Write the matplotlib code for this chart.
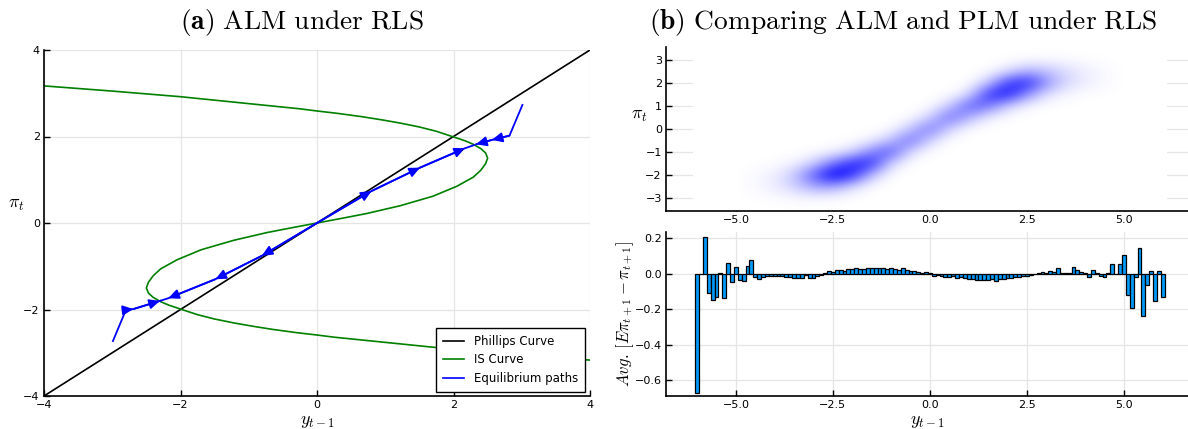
import numpy as np
import matplotlib
matplotlib.use('Agg')
import matplotlib.pyplot as plt
from matplotlib.colors import LinearSegmentedColormap
from matplotlib.patches import Rectangle
from matplotlib.lines import Line2D

plt.rcParams['mathtext.fontset'] = 'cm'
plt.rcParams['font.family'] = 'DejaVu Sans'

# ---- panel (a): ALM under RLS ----
phillips_y = [-4.0, 4.0]
phillips_pi = [-4.0, 4.0]

# IS curve, traced from the right edge to the left edge
is_y = [4.0, 3.0, 2.0, 1.0, 0.25, 0.0, -0.3, -0.65, -0.95, -1.22, -1.5, -1.75,
        -2.0, -2.17, -2.29, -2.40, -2.47, -2.50, -2.47, -2.40, -2.29, -2.05, -1.70,
        -1.22, -0.73, -0.37, 0.0,
        0.37, 0.73, 1.22, 1.70, 2.05, 2.29, 2.40, 2.47, 2.50, 2.47, 2.40, 2.29,
        2.17, 2.0, 1.75, 1.5, 1.22, 0.95, 0.65, 0.3, 0.0, -0.25, -1.0, -2.0, -3.0, -4.0]
is_pi = [-3.17, -3.05, -2.92, -2.76, -2.64, -2.59, -2.535, -2.46, -2.385, -2.31, -2.22, -2.12,
         -1.99, -1.90, -1.82, -1.72, -1.62, -1.50, -1.37, -1.22, -1.06, -0.85, -0.62,
         -0.40, -0.22, -0.11, 0.0,
         0.11, 0.22, 0.40, 0.62, 0.85, 1.06, 1.22, 1.37, 1.50, 1.62, 1.72, 1.82,
         1.90, 1.99, 2.12, 2.22, 2.31, 2.385, 2.46, 2.535, 2.59, 2.64, 2.76, 2.92, 3.05, 3.17]

# equilibrium paths (y_{t-1}, pi_t) and vertices carrying an arrow head
path_up_out_y = [0.0, 0.80, 1.51, 2.17, 2.30]
path_up_out_pi = [0.0, 0.74, 1.28, 1.73, 1.80]
path_up_in_y = [3.01, 2.82, 2.56, 2.33]
path_up_in_pi = [2.73, 2.02, 1.92, 1.82]
path_lo_out_y = [0.0, -0.81, -1.49, -2.18, -2.30]
path_lo_out_pi = [0.0, -0.76, -1.30, -1.74, -1.80]
path_lo_in_y = [-2.99, -2.80, -2.69, -2.30]
path_lo_in_pi = [-2.73, -2.01, -1.99, -1.80]
paths = [(path_up_out_y, path_up_out_pi, [1, 2, 3]),
         (path_up_in_y, path_up_in_pi, [2, 3]),
         (path_lo_out_y, path_lo_out_pi, [1, 2, 3]),
         (path_lo_in_y, path_lo_in_pi, [2, 3])]

# ---- panel (b) top: density of (y_{t-1}, pi_t) ----
dens_x = [-4.5, -4.0, -3.5, -3.0, -2.5, -2.0, -1.5, -1.0, -0.5, 0.0,
          0.5, 1.0, 1.5, 2.0, 2.5, 3.0, 3.5, 4.0, 4.5]
dens_pi = [3.0, 2.5, 2.0, 1.5, 1.0, 0.5, 0.0, -0.5, -1.0, -1.5, -2.0, -2.5, -3.0]
# one list per x column, top (pi=3) to bottom (pi=-3)
dens_cols = [
    [0, 0, 0, 0, 0, 0, 0, 0, 0, 0.03, 0.18, 0.22, 0.05],
    [0, 0, 0, 0, 0, 0, 0, 0, 0, 0.08, 0.51, 0.61, 0.13],
    [0, 0, 0, 0, 0, 0, 0, 0, 0.01, 0.36, 1.74, 1.46, 0.22],
    [0, 0, 0, 0, 0, 0, 0, 0, 0.08, 1.45, 4.85, 2.85, 0.30],
    [0, 0, 0, 0, 0, 0, 0, 0, 0.38, 4.25, 8.40, 2.98, 0.19],
    [0, 0, 0, 0, 0, 0, 0, 0.04, 1.19, 6.90, 6.90, 1.19, 0.04],
    [0, 0, 0, 0, 0, 0, 0, 0.42, 4.00, 6.80, 2.00, 0.10, 0],
    [0, 0, 0, 0, 0, 0, 0.07, 2.00, 5.45, 1.27, 0.03, 0, 0],
    [0, 0, 0, 0, 0, 0.06, 1.78, 4.75, 1.10, 0.02, 0, 0, 0],
    [0, 0, 0, 0, 0.04, 1.35, 4.50, 1.35, 0.04, 0, 0, 0, 0],
    [0, 0, 0, 0.04, 1.44, 4.80, 1.44, 0.04, 0, 0, 0, 0, 0],
    [0, 0, 0.01, 0.94, 5.20, 2.50, 0.10, 0, 0, 0, 0, 0, 0],
    [0, 0.08, 1.60, 6.45, 4.55, 0.56, 0.01, 0, 0, 0, 0, 0, 0],
    [0.03, 0.94, 6.20, 7.40, 1.53, 0.06, 0, 0, 0, 0, 0, 0, 0],
    [0.15, 2.45, 6.93, 3.50, 0.30, 0, 0, 0, 0, 0, 0, 0, 0],
    [0.21, 2.00, 3.40, 1.00, 0.05, 0, 0, 0, 0, 0, 0, 0, 0],
    [0.17, 1.10, 1.30, 0.27, 0.01, 0, 0, 0, 0, 0, 0, 0, 0],
    [0.10, 0.57, 0.57, 0.10, 0, 0, 0, 0, 0, 0, 0, 0, 0],
    [0.04, 0.20, 0.20, 0.04, 0, 0, 0, 0, 0, 0, 0, 0, 0],
]

# ---- panel (b) bottom: average forecast error per y_{t-1} bin ----
bin_centers = np.round(np.linspace(-6.0, 6.0, 121), 1)
avg_err = [
    -0.67, 0.0, 0.205, -0.11, -0.15, -0.13, 0.005, -0.135, 0.06, -0.045,    # -6.0 .. -5.1
    0.04, -0.035, -0.04, 0.045, 0.08, -0.02, -0.03, -0.02, -0.015, -0.01,   # -5.0 .. -4.1
    -0.015, -0.012, -0.015, -0.02, -0.02, -0.022, -0.025, -0.025, -0.005, -0.022,  # -4.0 .. -3.1
    -0.025, -0.015, -0.005, 0.005, 0.015, 0.01, 0.02, 0.022, 0.015, 0.025,  # -3.0 .. -2.1
    0.028, 0.03, 0.028, 0.025, 0.032, 0.03, 0.032, 0.033, 0.03, 0.025,      # -2.0 .. -1.1
    0.035, 0.028, 0.02, 0.03, 0.022, 0.018, 0.015, 0.008, 0.005, 0.01,      # -1.0 .. -0.1
    0.003, -0.01, -0.005, -0.012, -0.02, -0.02, -0.015, -0.025, -0.02, -0.022,  # 0.0 .. 0.9
    -0.03, -0.03, -0.033, -0.035, -0.033, -0.035, -0.03, -0.038, -0.03, -0.028,  # 1.0 .. 1.9
    -0.025, -0.025, -0.02, -0.02, -0.015, -0.01, -0.005, 0.0, 0.003, 0.01,  # 2.0 .. 2.9
    0.003, 0.015, 0.01, 0.03, 0.003, 0.003, 0.005, 0.04, 0.02, 0.01,        # 3.0 .. 3.9
    0.003, -0.02, 0.02, 0.003, -0.01, -0.02, 0.003, 0.053, 0.0, 0.053,      # 4.0 .. 4.9
    0.106, -0.117, -0.19, -0.017, 0.147, -0.24, -0.064, 0.017, -0.155, 0.017,  # 5.0 .. 5.9
    -0.132,                                                                 # 6.0
]

GRID = '#e5e5e5'


def style_axes(ax):
    for s in ['top', 'right']:
        ax.spines[s].set_visible(False)
    for s in ['left', 'bottom']:
        ax.spines[s].set_linewidth(1.2)
    ax.tick_params(direction='in', length=4, width=1, labelsize=8, pad=3)
    ax.grid(True, color=GRID, linewidth=0.9)
    ax.set_axisbelow(True)


fig = plt.figure(figsize=(11.88, 4.29), dpi=100, facecolor='white')

# ---------------- (a) ----------------
ax1 = fig.add_axes([44 / 1188, 33 / 429, 546 / 1188, 346 / 429])
style_axes(ax1)
ax1.plot(phillips_y, phillips_pi, color='black', lw=1.2)
ax1.plot(is_y, is_pi, color='#008000', lw=1.2)
for py, ppi, arr in paths:
    ax1.plot(py, ppi, color='blue', lw=1.3)
    for k in arr:
        ax1.annotate('', xy=(py[k], ppi[k]), xytext=(py[k - 1], ppi[k - 1]),
                     arrowprops=dict(arrowstyle='-|>,head_length=0.7,head_width=0.32',
                                     color='blue', lw=1.3, shrinkA=0, shrinkB=0,
                                     mutation_scale=9))
ax1.set_xlim(-4, 4)
ax1.set_ylim(-4, 4)
ax1.set_xticks([-4, -2, 0, 2, 4])
ax1.set_yticks([-4, -2, 0, 2, 4])
ax1.set_xlabel(r'$y_{t-1}$', fontsize=13, labelpad=1)
ax1.set_ylabel(r'$\pi_t$', fontsize=13, rotation=0)
ax1.yaxis.set_label_coords(-0.05, 0.53)
handles = [Line2D([0], [0], color='black', lw=1.2),
           Line2D([0], [0], color='#008000', lw=1.2),
           Line2D([0], [0], color='blue', lw=1.2)]
leg = ax1.legend(handles, ['Phillips Curve', 'IS Curve', 'Equilibrium paths'],
                 loc='lower right', bbox_to_anchor=(0.991, 0.012), borderaxespad=0,
                 fontsize=8.5, fancybox=False, framealpha=1, edgecolor='black',
                 handlelength=1.8, handletextpad=0.8, borderpad=0.6, labelspacing=0.45)
leg.get_frame().set_linewidth(1.0)

fig.text(302 / 1188, 1 - 22 / 429, r'$\mathbf{(a)}\ \mathrm{ALM\ under\ RLS}$',
         ha='center', va='center', fontsize=19.8)

# ---------------- (b) top ----------------
ax2 = fig.add_axes([666 / 1188, 218 / 429, 522 / 1188, 164 / 429])
style_axes(ax2)
grid = np.pad(np.array(dens_cols).T, 1)
step = 0.5
ext = (dens_x[0] - 1.5 * step, dens_x[-1] + 1.5 * step,
       dens_pi[-1] - 1.5 * step, dens_pi[0] + 1.5 * step)
ax2.add_patch(Rectangle((-6.1, -3.6), 12.2, 7.2, facecolor='white', edgecolor='none', zorder=0.8))
cmap = LinearSegmentedColormap.from_list('wb', ['#ffffff', '#0000ff'])
cmap.set_under('white')
ax2.imshow(grid, extent=ext, origin='upper', aspect='auto', cmap=cmap,
           vmin=0.0, vmax=8.0, interpolation='bicubic', zorder=1)
ax2.set_xlim(-6.8, 6.65)
ax2.set_ylim(-3.57, 3.55)
ax2.set_xticks([-5, -2.5, 0, 2.5, 5])
ax2.set_xticklabels(['\u22125.0', '\u22122.5', '0.0', '2.5', '5.0'])
ax2.set_yticks([-3, -2, -1, 0, 1, 2, 3])
ax2.set_ylabel(r'$\pi_t$', fontsize=13, rotation=0)
ax2.yaxis.set_label_coords(-0.052, 0.53)

fig.text(903 / 1188, 1 - 22 / 429,
         r'$\mathbf{(b)}\ \mathrm{Comparing\ ALM\ and\ PLM\ under\ RLS}$',
         ha='center', va='center', fontsize=19.8)

# ---------------- (b) bottom ----------------
ax3 = fig.add_axes([666 / 1188, 33 / 429, 522 / 1188, 164 / 429])
style_axes(ax3)
ax3.bar(bin_centers, avg_err, width=0.1, color='#009afa', edgecolor='black', linewidth=0.9)
ax3.set_xlim(-6.8, 6.65)
ax3.set_ylim(-0.688, 0.235)
ax3.set_xticks([-5, -2.5, 0, 2.5, 5])
ax3.set_xticklabels(['\u22125.0', '\u22122.5', '0.0', '2.5', '5.0'])
ax3.set_yticks([-0.6, -0.4, -0.2, 0.0, 0.2])
ax3.set_yticklabels(['\u22120.6', '\u22120.4', '\u22120.2', '0.0', '0.2'])
ax3.set_xlabel(r'$y_{t-1}$', fontsize=13, labelpad=1)
ax3.set_ylabel(r'$Avg.\,[E\pi_{t+1}-\pi_{t+1}]$', fontsize=12)
ax3.yaxis.set_label_coords(-0.058, 0.5)

fig.savefig('out.png', dpi=100, facecolor='white')
